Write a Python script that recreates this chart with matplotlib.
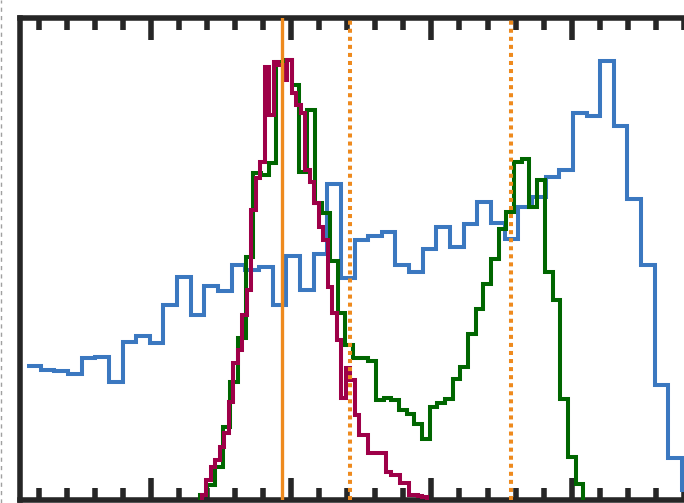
import numpy as np
import matplotlib
import matplotlib.pyplot as plt
from matplotlib.ticker import MultipleLocator
from matplotlib.lines import Line2D
matplotlib.use('Agg')

# histogram ranges (x units, major tick = 1) and bin counts, 50 bins each
blue_range = (0.1176, 4.981)
blue_counts = [133.5, 129.5, 128.5, 125.5, 141.5, 142.5, 117.5, 157.5, 163.5, 156.5,
               194.5, 222.5, 184.5, 213.5, 208.5, 234.5, 229.5, 232.5, 194.5, 243.5,
               209.5, 245.5, 315.5, 221.5, 259.5, 263.5, 267.5, 234.5, 227.5, 250.5,
               272.5, 252.5, 275.5, 297.5, 276.5, 260.5, 292.5, 302.5, 322.5, 329.5,
               386.5, 383.5, 438.5, 373.5, 300.5, 234.5, 114.5, 41.5, 9.5, 3.0]

green_range = (1.349, 4.0818)
green_counts = [4.5, 14.5, 32.5, 72.5, 117.5, 161.5, 242.5, 326.5, 324.5, 336.5,
                437.5, 439.5, 414.5, 327.5, 389.5, 296.5, 286.5, 238.5, 186.5, 154.5,
                141.5, 141.5, 139, 99.5, 102, 99.5, 89.5, 86, 76, 61,
                93, 97, 101, 121, 133, 166, 191, 216, 241, 271,
                288, 338, 340.5, 293, 319.5, 228, 199.5, 100.5, 43, 16]

crimson_range = (1.3646, 2.968)
crimson_counts = [4.5, 19.5, 32.5, 39.5, 52.5, 66.5, 97.5, 136.5, 149.5, 184.5,
                  209.5, 289.5, 321.5, 337.5, 432.5, 384.5, 437.5, 434.5, 419.5, 439.5,
                  406.5, 394.5, 386.5, 329.5, 317.5, 296.5, 272.5, 259.5, 212.5, 186.5,
                  159.5, 101.5, 131.5, 119.5, 84.5, 64.5, 64.5, 46.5, 46.5, 46.5,
                  46.5, 27.5, 24.5, 24.5, 16.5, 16.5, 4.5, 4.5, 3.5, 2.5]

# reference lines
median_x = 1.9326
bound_x = [2.4214, 3.5666]

dark = '#262626'
orange = '#ee8a1e'

fig = plt.figure(figsize=(6.84, 5.03), dpi=100)
# axes runs past the right edge of the picture
ax = fig.add_axes([19.7 / 684, 3.5 / 503, (712 - 19.7) / 684, (499.5 - 17.7) / 503])

def edges(r, n):
    return np.linspace(r[0], r[1], n + 1)

ax.stairs(blue_counts, edges(blue_range, len(blue_counts)), baseline=None,
          color='#3b78c0', lw=2.9, joinstyle='miter', zorder=2)
ax.stairs(green_counts, edges(green_range, len(green_counts)),
          color='#006600', lw=2.9, joinstyle='miter', zorder=3)
ax.stairs(crimson_counts, edges(crimson_range, len(crimson_counts)),
          color='#9e0048', lw=2.9, joinstyle='miter', zorder=4)

ax.axvline(median_x, color=orange, lw=2.4, zorder=5)
for bx in bound_x:
    ax.axvline(bx, color=orange, lw=2.9, linestyle=(0, (1, 1)), zorder=5)

ax.set_xlim(0.0656, 5.0)
ax.set_ylim(0, 481.8)

# frame and inward ticks, no labels
for s in ax.spines.values():
    s.set_linewidth(4)
    s.set_color(dark)
ax.xaxis.set_major_locator(MultipleLocator(1))
ax.xaxis.set_minor_locator(MultipleLocator(0.2))
ax.tick_params(axis='x', which='both', direction='in', top=True, bottom=True,
               labelbottom=False, labeltop=False, color=dark, width=4)
ax.tick_params(axis='x', which='major', length=15.8)
ax.tick_params(axis='x', which='minor', length=8.9)
ax.tick_params(axis='y', which='both', left=False, right=False,
               labelleft=False, labelright=False)

# faint dashed edge on the far left
fig.add_artist(Line2D([0.6 / 684, 0.6 / 684], [0, 1], transform=fig.transFigure,
                      color='#a0a0a0', lw=1, linestyle=(0, (3, 3))))

fig.savefig('out.png', dpi=100)
